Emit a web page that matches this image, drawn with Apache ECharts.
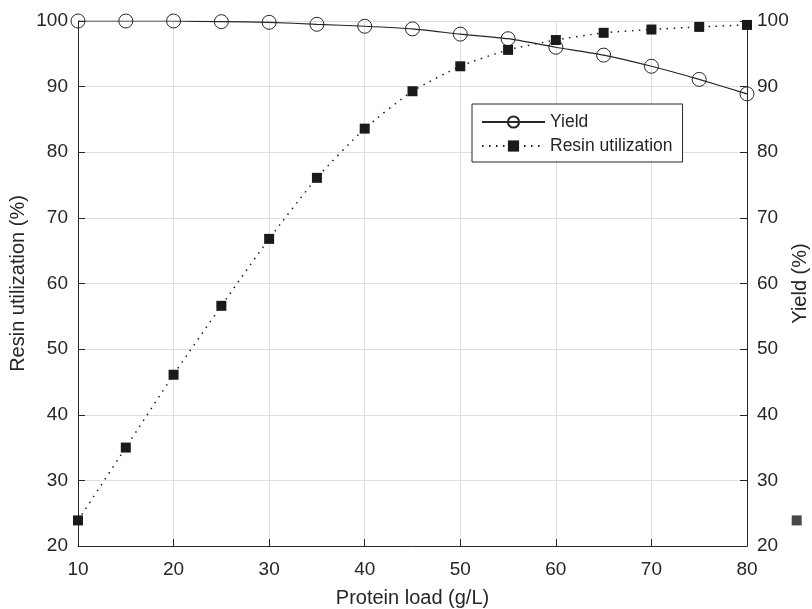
<!DOCTYPE html>
<html>
<head>
<meta charset="utf-8">
<script src="https://cdn.jsdelivr.net/npm/echarts@6/dist/echarts.min.js"></script>
<style>html,body{margin:0;padding:0;background:#fff}#c{width:812px;height:609px}</style>
</head>
<body>
<div id="c"></div>
<script>
const proteinLoad = [10, 15, 20, 25, 30, 35, 40, 45, 50, 55, 60, 65, 70, 75, 80];
const yieldPct = [100, 100, 100, 99.9, 99.8, 99.5, 99.2, 98.8, 98.0, 97.3, 96.0, 94.8, 93.1, 91.1, 88.9];
const resinUtil = [23.9, 35.0, 46.1, 56.6, 66.8, 76.1, 83.6, 89.3, 93.1, 95.6, 97.1, 98.2, 98.7, 99.1, 99.4];
const strayX = [85.2];
const strayY = [23.9];
const xTicks = [10, 20, 30, 40, 50, 60, 70, 80];
const yTicks = [20, 30, 40, 50, 60, 70, 80, 90, 100];

const textColor = '#262626';
const fontFamily = '"Liberation Sans", Arial, sans-serif';
const fs = 19;
const nameFs = 20;

const chart = echarts.init(document.getElementById('c'), null, {renderer: 'canvas'});

function yAxisCfg(name, pos) {
  return {
    type: 'value', position: pos,
    min: yTicks[0], max: yTicks[yTicks.length - 1], interval: 10,
    name: name, nameLocation: 'middle', nameRotate: 90,
    nameGap: pos === 'left' ? 50 : 43,
    nameMoveOverlap: false,
    nameTextStyle: {color: textColor, fontSize: nameFs, fontFamily: fontFamily},
    axisLine: {show: true, lineStyle: {color: textColor, width: 1}},
    axisTick: {show: true, inside: true, length: 7, lineStyle: {color: textColor}},
    axisLabel: {color: textColor, fontSize: fs, fontFamily: fontFamily, margin: 10},
    splitLine: {show: pos === 'left', lineStyle: {color: '#dfdfdf', width: 1}}
  };
}

chart.setOption({
  animation: false,
  backgroundColor: '#fff',
  grid: {left: 78, right: 65, top: 21, bottom: 63, containLabel: false, outerBoundsMode: 'none'},
  xAxis: {
    type: 'value', min: xTicks[0], max: xTicks[xTicks.length - 1], interval: 10,
    name: 'Protein load (g/L)', nameLocation: 'middle', nameGap: 42,
    nameMoveOverlap: false,
    nameTextStyle: {color: textColor, fontSize: nameFs, fontFamily: fontFamily},
    axisLine: {show: true, lineStyle: {color: textColor, width: 1}},
    axisTick: {show: true, inside: true, length: 7, lineStyle: {color: textColor}},
    axisLabel: {color: textColor, fontSize: fs, fontFamily: fontFamily, margin: 14},
    splitLine: {show: true, lineStyle: {color: '#dfdfdf', width: 1}}
  },
  yAxis: [yAxisCfg('Resin utilization (%)', 'left'), yAxisCfg('Yield (%)', 'right')],
  legend: {
    show: true, orient: 'vertical', left: 472, top: 104,
    data: ['Yield', 'Resin utilization'],
    backgroundColor: '#fff', borderColor: textColor, borderWidth: 1,
    padding: [9, 10, 7, 9], itemGap: 6, itemWidth: 63, itemHeight: 14,
    textStyle: {color: textColor, fontSize: 17.5, fontFamily: fontFamily}
  },
  series: [
    {
      name: 'Yield', type: 'line', yAxisIndex: 1,
      data: proteinLoad.map((x, i) => [x, yieldPct[i]]),
      smooth: 0.2,
      symbol: 'circle', symbolSize: 14,
      itemStyle: {color: 'rgba(255,255,255,0)', borderColor: textColor, borderWidth: 1},
      lineStyle: {color: textColor, width: 1.2, type: 'solid'},
      z: 3
    },
    {
      name: 'Resin utilization', type: 'line', yAxisIndex: 0,
      data: proteinLoad.map((x, i) => [x, resinUtil[i]]),
      smooth: 0.2,
      symbol: 'rect', symbolSize: 10,
      itemStyle: {color: '#1a1a1a', borderWidth: 0},
      lineStyle: {color: '#1a1a1a', width: 1.5, type: [1.5, 5.5]},
      z: 4
    },
    {
      name: 'stray', type: 'scatter', yAxisIndex: 0, clip: false,
      data: strayX.map((x, i) => [x, strayY[i]]),
      symbol: 'rect', symbolSize: 10,
      itemStyle: {color: '#1a1a1a'},
      silent: true
    }
  ]
});
</script>
</body>
</html>
